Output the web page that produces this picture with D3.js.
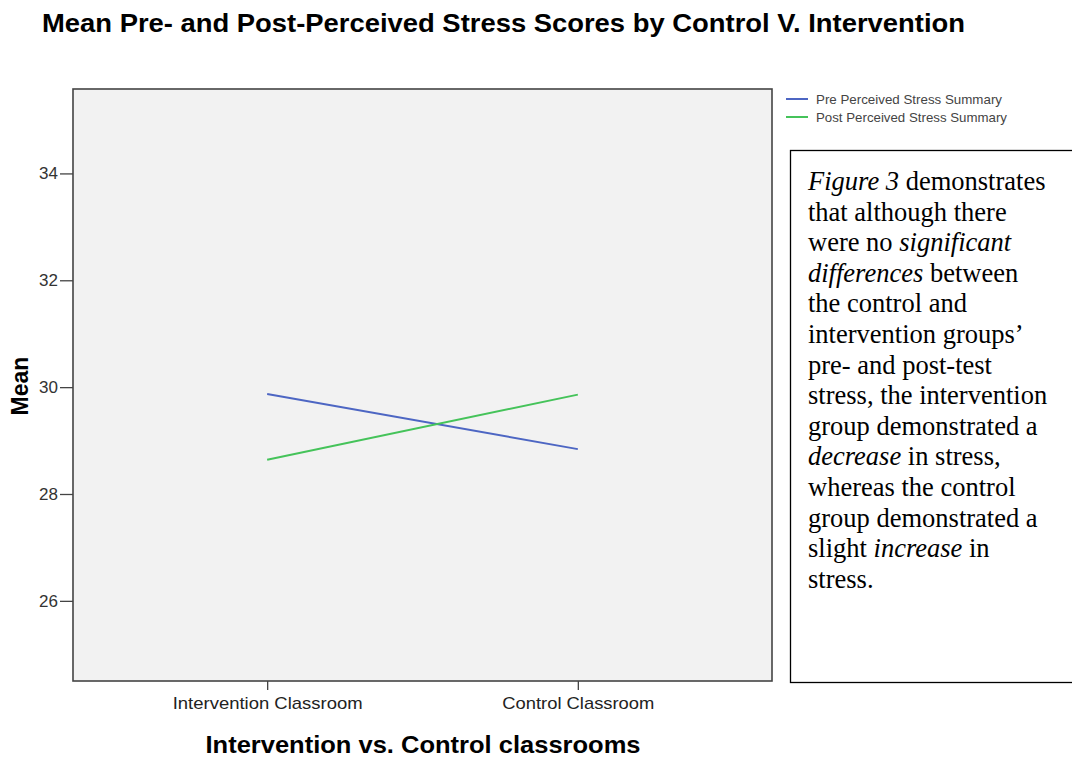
<!DOCTYPE html>
<html><head><meta charset="utf-8">
<script src="https://cdn.jsdelivr.net/npm/d3@7"></script>
<style>
body{margin:0;background:#fff;}
svg{display:block;}
</style></head>
<body>
<svg id="chart" width="1072" height="757"></svg>
<script>
const categories = ["Intervention Classroom", "Control Classroom"];
const seriesNames = ["Pre Perceived Stress Summary", "Post Perceived Stress Summary"];
const preValues = [29.87, 28.84];
const postValues = [28.64, 29.86];
const yTicks = [26, 28, 30, 32, 34];
const titleText = "Mean Pre- and Post-Perceived Stress Scores by Control V. Intervention";
const xTitle = "Intervention vs. Control classrooms";
const yTitle = "Mean";
const colors = ["#4d66c3", "#45c35a"];

const svg = d3.select("#chart");
const plot = {left: 73, top: 89, right: 772, bottom: 681};
const sans = "Liberation Sans, Arial, sans-serif";

const x = d3.scalePoint().domain(categories).range([plot.left, plot.right]).padding(0.625);
const y = d3.scaleLinear().domain([24.5, 35.58]).range([plot.bottom, plot.top]);

// title
svg.append("text").attr("x", 42).attr("y", 32)
  .attr("font-family", sans)
  .attr("font-weight", "bold").attr("font-size", 25)
  .attr("textLength", 923).attr("lengthAdjust", "spacingAndGlyphs")
  .attr("fill", "#000").text(titleText);

// plot bg
svg.append("rect").attr("x", plot.left).attr("y", plot.top)
  .attr("width", plot.right - plot.left).attr("height", plot.bottom - plot.top)
  .attr("fill", "#f2f2f2").attr("stroke", "#444").attr("stroke-width", 1.6);

// y axis
const yAxis = d3.axisLeft(y).tickValues(yTicks).tickSize(13).tickPadding(2).tickFormat(d3.format("d"));
const gy = svg.append("g").attr("transform", `translate(${plot.left},0)`).call(yAxis);
gy.select(".domain").remove();
gy.selectAll("line").attr("stroke", "#444").attr("stroke-width", 1.3);
gy.selectAll("text").attr("font-family", sans)
  .attr("font-size", 17).attr("fill", "#333");

// x axis
const xAxis = d3.axisBottom(x).tickSize(9).tickPadding(7);
const gx = svg.append("g").attr("transform", `translate(0,${plot.bottom})`).call(xAxis);
gx.select(".domain").remove();
gx.selectAll("line").attr("stroke", "#444").attr("stroke-width", 1.3);
gx.selectAll("text").attr("font-family", sans)
  .attr("font-size", 17).attr("fill", "#222")
  .attr("textLength", d => d === categories[0] ? 190 : 152)
  .attr("lengthAdjust", "spacingAndGlyphs");

// axis titles
svg.append("text").attr("x", 423).attr("y", 753).attr("text-anchor", "middle")
  .attr("font-family", sans).attr("font-weight", "bold")
  .attr("font-size", 24).attr("textLength", 435).attr("lengthAdjust", "spacingAndGlyphs")
  .attr("fill", "#000").text(xTitle);
svg.append("text").attr("transform", "translate(28,386) rotate(-90)").attr("text-anchor", "middle")
  .attr("font-family", sans).attr("font-weight", "bold")
  .attr("font-size", 23).attr("fill", "#000").text(yTitle);

// lines
const series = [preValues, postValues];
const line = d3.line().x((d, i) => x(categories[i])).y(d => y(d));
series.forEach((vals, si) => {
  svg.append("path").datum(vals).attr("d", line).attr("fill", "none")
    .attr("stroke", colors[si]).attr("stroke-width", 2);
});

// legend
seriesNames.forEach((name, i) => {
  const ly = 99 + i * 18;
  svg.append("line").attr("x1", 786).attr("x2", 808).attr("y1", ly).attr("y2", ly)
    .attr("stroke", colors[i]).attr("stroke-width", 2);
  svg.append("text").attr("x", 816).attr("y", ly + 4.5)
    .attr("font-family", sans).attr("font-size", 13)
    .attr("textLength", i === 0 ? 186 : 191).attr("lengthAdjust", "spacingAndGlyphs")
    .attr("fill", "#444").text(name);
});

// text box
svg.append("rect").attr("x", 790.5).attr("y", 150.5).attr("width", 290).attr("height", 532)
  .attr("fill", "#fff").attr("stroke", "#000").attr("stroke-width", 1.3);
const para = [
  [["Figure 3", true], [" demonstrates", false]],
  [["that although there", false]],
  [["were no ", false], ["significant", true]],
  [["differences", true], [" between", false]],
  [["the control and", false]],
  [["intervention groups\u2019", false]],
  [["pre- and post-test", false]],
  [["stress, the intervention", false]],
  [["group demonstrated a", false]],
  [["decrease", true], [" in stress,", false]],
  [["whereas the control", false]],
  [["group demonstrated a", false]],
  [["slight ", false], ["increase", true], [" in", false]],
  [["stress.", false]]
];
const tb = svg.append("text").attr("font-family", "Liberation Serif, Times New Roman, serif")
  .attr("font-size", 26.5).attr("fill", "#000");
para.forEach((ln, i) => {
  ln.forEach((seg, j) => {
    const ts = tb.append("tspan").text(seg[0]).attr("font-style", seg[1] ? "italic" : "normal");
    if (j === 0) ts.attr("x", 808).attr("y", 190 + i * 30.6);
  });
});
</script>
</body></html>
